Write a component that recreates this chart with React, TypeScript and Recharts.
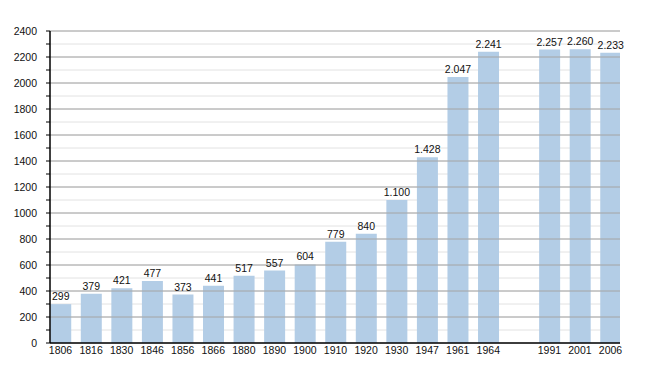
import React from 'react';
import { BarChart, Bar, XAxis, YAxis, CartesianGrid, LabelList, ReferenceLine } from 'recharts';

// ── Population by census year (one empty slot between 1964 and 1991)

const YEARS = ['1806', '1816', '1830', '1846', '1856', '1866', '1880', '1890', '1900', '1910', '1920', '1930', '1947', '1961', '1964', '1991', '2001', '2006'];
const POPULATION = [299, 379, 421, 477, 373, 441, 517, 557, 604, 779, 840, 1100, 1428, 2047, 2241, 2257, 2260, 2233];
const MINOR_TICKS = [0, 100, 200, 300, 400, 500, 600, 700, 800, 900, 1000, 1100, 1200, 1300, 1400, 1500, 1600, 1700, 1800, 1900, 2000, 2100, 2200, 2300, 2400];
const MAJOR_TICKS = [200, 400, 600, 800, 1000, 1200, 1400, 1600, 1800, 2000, 2200, 2400];

// slot on the x axis: the gap after 1964 pushes the later years one slot right
const data = YEARS.map((year, i) => ({ slot: i < 15 ? i : i + 1, year, pop: POPULATION[i] }));
const slotYear: Record<number, string> = {};
data.forEach(d => { slotYear[d.slot] = d.year; });

const font = { fontFamily: 'Liberation Sans, Arial, sans-serif', fontSize: 10.5, fill: '#111' };
const fmt = (v: any) => String(v).replace(/\B(?=(\d{3})+(?!\d))/g, '.');

export default function App() {
  return (
    <div style={{ position: 'absolute', left: 0, top: 0, width: 650, height: 373, background: '#fff' }}>
      <BarChart width={650} height={373} data={data} margin={{ top: 31, right: 30, bottom: 0, left: 0 }}>
        <CartesianGrid vertical={false} stroke="#e2e2e2" />
        {MAJOR_TICKS.map(v => (
          <ReferenceLine key={v} y={v} stroke="#a4a4a4" />
        ))}
        <XAxis
          dataKey="slot"
          type="number"
          domain={[-0.344, 18.31]}
          allowDataOverflow
          ticks={data.map(d => d.slot)}
          tickFormatter={(v: number) => slotYear[v] ?? ''}
          interval={0}
          height={30}
          tick={{ ...font, dy: -4 }}
          tickLine={false}
          axisLine={{ stroke: '#000', strokeWidth: 1.5 }}
        />
        <YAxis
          domain={[0, 2400]}
          ticks={MINOR_TICKS}
          interval={0}
          width={50}
          tick={{ ...font, dx: -7 }}
          tickFormatter={(v: number) => (v % 200 === 0 ? String(v) : '')}
          tickSize={4}
          tickLine={{ stroke: '#000' }}
          axisLine={{ stroke: '#000', strokeWidth: 1.5 }}
        />
        <Bar dataKey="pop" fill="#b3cde6" barSize={21} isAnimationActive={false}>
          <LabelList dataKey="pop" position="top" offset={4} formatter={fmt} style={font} />
        </Bar>
      </BarChart>
    </div>
  );
}
